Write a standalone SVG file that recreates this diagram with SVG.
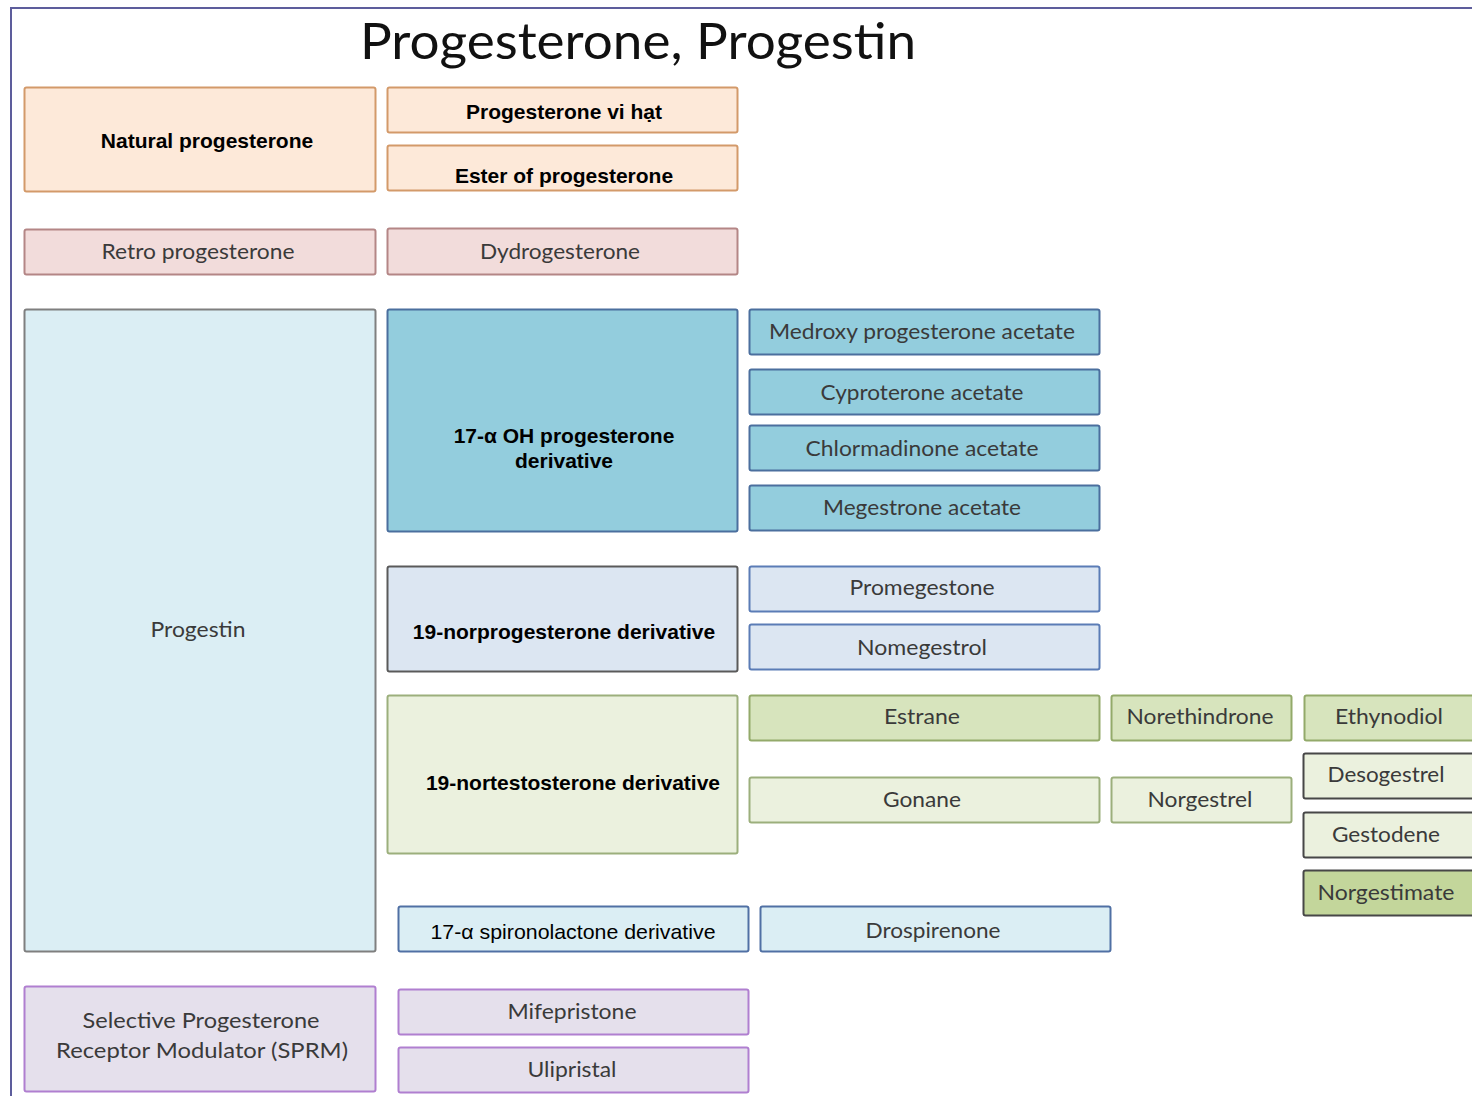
<svg xmlns="http://www.w3.org/2000/svg" width="1472" height="1096" viewBox="0 0 1472 1096">
<style>
rect{stroke-width:2}
.c{font-family:Lato,"Open Sans",sans-serif;font-size:22px;fill:#3a3a3a;text-anchor:middle}
.b{font-family:"Liberation Sans",Arial,sans-serif;font-size:21px;font-weight:bold;fill:#000;text-anchor:middle}
.or{fill:#fde9d9;stroke:#d39a6a}
.pk{fill:#f2dcdb;stroke:#b48686}
.lb{fill:#dbeef4;stroke:#7f7f7f}
.bl{fill:#93cddd;stroke:#4b6f9e}
.pb{fill:#dce6f2;stroke:#5b7cb6}
.gl{fill:#ebf1de;stroke:#9caf7c}
.gd{fill:#d7e4bd;stroke:#93aa6a}
.gk{fill:#ebf1de;stroke:#474747}
.gn{fill:#c3d69b;stroke:#474747}
.sp{fill:#dbeef4;stroke:#5070a4}
.pu{fill:#e5e0ec;stroke:#b07fd0}
</style>
<rect x="0" y="0" width="1472" height="1096" fill="#fff" style="stroke:none"/>
<g id="frame"><path d="M11 1096 V8 H1472" fill="none" stroke="#5d5d9c" stroke-width="2"/></g>
<text x="638" y="59" font-family="Lato,'Open Sans',sans-serif" font-size="50" fill="#111" text-anchor="middle" textLength="556" lengthAdjust="spacingAndGlyphs">Progesterone, Progestin</text>
<g id="connectors"></g>
<g id="natural"><rect class="or" x="24.5" y="87.5" width="351" height="104" rx="2"/><text class="b" x="207" y="148">Natural progesterone</text></g>
<g id="vihat"><rect class="or" x="387.5" y="87.5" width="350" height="45" rx="2"/><text class="b" x="564" y="119">Progesterone vi hạt</text></g>
<g id="ester"><rect class="or" x="387.5" y="145.5" width="350" height="45" rx="2"/><text class="b" x="564" y="183">Ester of progesterone</text></g>
<g id="retro"><rect class="pk" x="24.5" y="229.5" width="351" height="45" rx="2"/><text class="c" x="198" y="259" textLength="193" lengthAdjust="spacingAndGlyphs">Retro progesterone</text></g>
<g id="dydro"><rect class="pk" x="387.5" y="228.5" width="350" height="46" rx="2"/><text class="c" x="560" y="259" textLength="160" lengthAdjust="spacingAndGlyphs">Dydrogesterone</text></g>
<g id="progestin"><rect class="lb" x="24.5" y="309.5" width="351" height="642" rx="2"/><text class="c" x="198" y="637" textLength="95" lengthAdjust="spacingAndGlyphs">Progestin</text></g>
<g id="oh17"><rect class="bl" x="387.5" y="309.5" width="350" height="222" rx="2"/><text class="b" x="564" y="443">17-α OH progesterone</text><text class="b" x="564" y="468">derivative</text></g>
<g id="medroxy"><rect class="bl" x="749.5" y="309.5" width="350" height="45" rx="2"/><text class="c" x="922" y="339" textLength="306" lengthAdjust="spacingAndGlyphs">Medroxy progesterone acetate</text></g>
<g id="cypro"><rect class="bl" x="749.5" y="369.5" width="350" height="45" rx="2"/><text class="c" x="922" y="400" textLength="203" lengthAdjust="spacingAndGlyphs">Cyproterone acetate</text></g>
<g id="chlor"><rect class="bl" x="749.5" y="425.5" width="350" height="45" rx="2"/><text class="c" x="922" y="456" textLength="233" lengthAdjust="spacingAndGlyphs">Chlormadinone acetate</text></g>
<g id="meges"><rect class="bl" x="749.5" y="485.5" width="350" height="45" rx="2"/><text class="c" x="922" y="515" textLength="198" lengthAdjust="spacingAndGlyphs">Megestrone acetate</text></g>
<g id="norprog"><rect class="pb" x="387.5" y="566.5" width="350" height="105" rx="2" style="stroke:#5a5a5a"/><text class="b" x="564" y="639">19-norprogesterone derivative</text></g>
<g id="promeg"><rect class="pb" x="749.5" y="566.5" width="350" height="45" rx="2"/><text class="c" x="922" y="595" textLength="145" lengthAdjust="spacingAndGlyphs">Promegestone</text></g>
<g id="nomeg"><rect class="pb" x="749.5" y="624.5" width="350" height="45" rx="2"/><text class="c" x="922" y="655" textLength="130" lengthAdjust="spacingAndGlyphs">Nomegestrol</text></g>
<g id="nortesto"><rect class="gl" x="387.5" y="695.5" width="350" height="158" rx="2"/><text class="b" x="573" y="790">19-nortestosterone derivative</text></g>
<g id="estrane"><rect class="gd" x="749.5" y="695.5" width="350" height="45" rx="2"/><text class="c" x="922" y="724" textLength="76" lengthAdjust="spacingAndGlyphs">Estrane</text></g>
<g id="noreth"><rect class="gd" x="1111.5" y="695.5" width="180" height="45" rx="2"/><text class="c" x="1200" y="724" textLength="147" lengthAdjust="spacingAndGlyphs">Norethindrone</text></g>
<g id="ethyn"><rect class="gd" x="1304.5" y="695.5" width="180" height="45" rx="2"/><text class="c" x="1389" y="724" textLength="108" lengthAdjust="spacingAndGlyphs">Ethynodiol</text></g>
<g id="gonane"><rect class="gl" x="749.5" y="777.5" width="350" height="45" rx="2"/><text class="c" x="922" y="807" textLength="78" lengthAdjust="spacingAndGlyphs">Gonane</text></g>
<g id="norgestrel"><rect class="gl" x="1111.5" y="777.5" width="180" height="45" rx="2"/><text class="c" x="1200" y="807" textLength="105" lengthAdjust="spacingAndGlyphs">Norgestrel</text></g>
<g id="deso"><rect class="gk" x="1303.5" y="753.5" width="180" height="45" rx="2"/><text class="c" x="1386" y="782" textLength="117" lengthAdjust="spacingAndGlyphs">Desogestrel</text></g>
<g id="gesto"><rect class="gk" x="1303.5" y="812.5" width="180" height="45" rx="2"/><text class="c" x="1386" y="842" textLength="108" lengthAdjust="spacingAndGlyphs">Gestodene</text></g>
<g id="norgestimate"><rect class="gn" x="1303.5" y="870.5" width="180" height="45" rx="2"/><text class="c" x="1386" y="900" textLength="137" lengthAdjust="spacingAndGlyphs" fill="#222">Norgestimate</text></g>
<g id="spiro"><rect class="sp" x="398.5" y="906.5" width="350" height="45" rx="2"/><text x="573" y="939" font-family="'Liberation Sans',Arial,sans-serif" font-size="21" fill="#000" text-anchor="middle" textLength="285" lengthAdjust="spacingAndGlyphs">17-α spironolactone derivative</text></g>
<g id="drospi"><rect class="sp" x="760.5" y="906.5" width="350" height="45" rx="2"/><text class="c" x="933" y="938" textLength="135" lengthAdjust="spacingAndGlyphs">Drospirenone</text></g>
<g id="sprm"><rect class="pu" x="24.5" y="986.5" width="351" height="105" rx="2"/><text class="c" x="201" y="1028" textLength="237" lengthAdjust="spacingAndGlyphs">Selective Progesterone</text><text class="c" x="202" y="1058" textLength="292" lengthAdjust="spacingAndGlyphs">Receptor Modulator (SPRM)</text></g>
<g id="mife"><rect class="pu" x="398.5" y="989.5" width="350" height="45" rx="2"/><text class="c" x="572" y="1019" textLength="129" lengthAdjust="spacingAndGlyphs">Mifepristone</text></g>
<g id="ulip"><rect class="pu" x="398.5" y="1047.5" width="350" height="45" rx="2"/><text class="c" x="572" y="1077" textLength="89" lengthAdjust="spacingAndGlyphs">Ulipristal</text></g>
</svg>
